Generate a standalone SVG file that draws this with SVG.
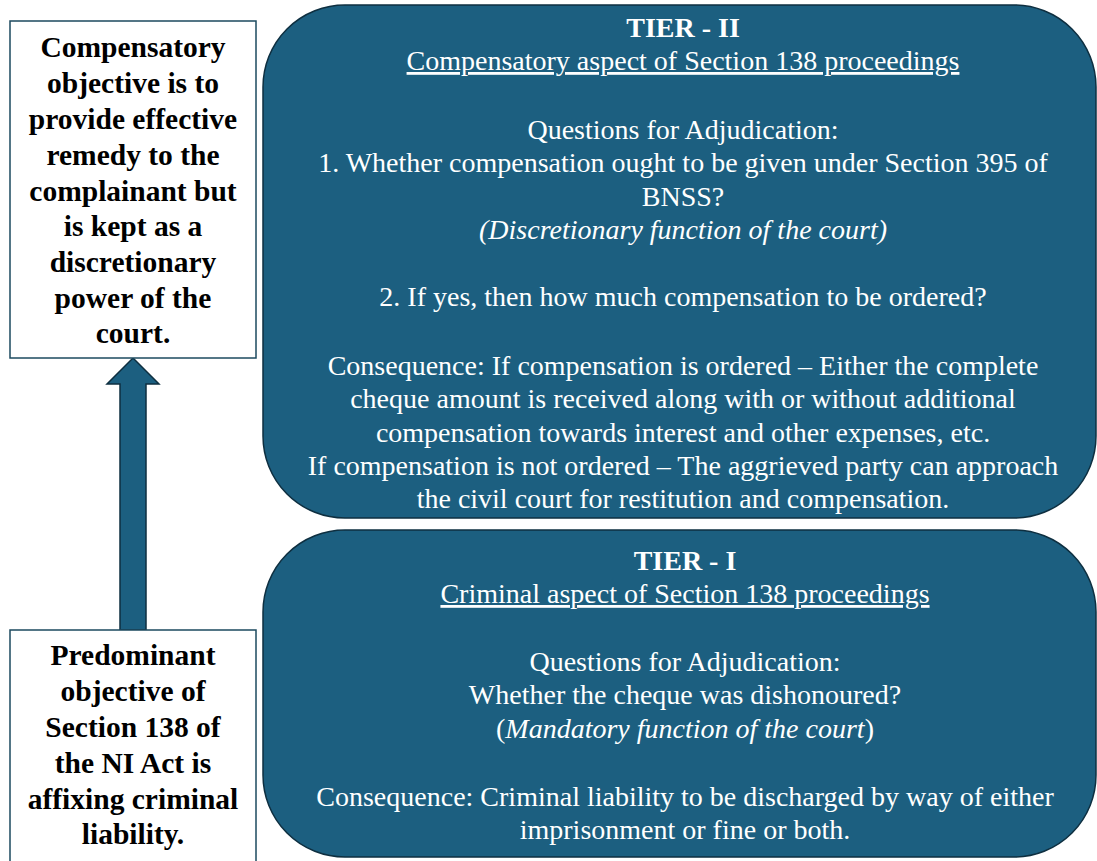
<svg xmlns="http://www.w3.org/2000/svg" width="1097" height="861" viewBox="0 0 1097 861">
<style>
.tier{fill:#1c5f80;stroke:#0e2f40;stroke-width:1.5}
.side{fill:#ffffff;stroke:#1c4a5f;stroke-width:1.5}
.t{font-family:'Liberation Serif';font-size:28px;fill:#ffffff;text-anchor:middle}
.b{font-weight:bold}
.u{text-decoration:underline}
.i{font-style:italic}
.s{font-family:'Liberation Serif';font-size:29.5px;font-weight:bold;fill:#000000;text-anchor:middle}
</style>
<rect width="1097" height="861" fill="#ffffff"/>
<g id="connectors">
<path d="M120,630 L120,384 L107,384 L133,358 L159,384 L146,384 L146,630 Z" fill="#1c5f80" stroke="#0e2f40" stroke-width="1.5"/>
</g>
<g id="compensatory-objective">
<rect class="side" x="10" y="21" width="246" height="337"/>
<text class="s" x="133" y="57">Compensatory</text>
<text class="s" x="133" y="93">objective is to</text>
<text class="s" x="133" y="129">provide effective</text>
<text class="s" x="133" y="165">remedy to the</text>
<text class="s" x="133" y="201">complainant but</text>
<text class="s" x="133" y="236">is kept as a</text>
<text class="s" x="133" y="272">discretionary</text>
<text class="s" x="133" y="308">power of the</text>
<text class="s" x="133" y="343">court.</text>
</g>
<g id="predominant-objective">
<rect class="side" x="10" y="630" width="246" height="240"/>
<text class="s" x="133" y="665">Predominant</text>
<text class="s" x="133" y="701">objective of</text>
<text class="s" x="133" y="737">Section 138 of</text>
<text class="s" x="133" y="773">the NI Act is</text>
<text class="s" x="133" y="809">affixing criminal</text>
<text class="s" x="133" y="844">liability.</text>
</g>
<g id="tier-2">
<rect class="tier" x="263" y="5" width="833" height="513" rx="82" ry="82"/>
<text class="t b" x="683" y="37">TIER - II</text>
<text class="t u" x="683" y="70">Compensatory aspect of Section 138 proceedings</text>
<text class="t" x="683" y="139">Questions for Adjudication:</text>
<text class="t" x="683" y="172">1. Whether compensation ought to be given under Section 395 of</text>
<text class="t" x="683" y="206">BNSS?</text>
<text class="t i" x="683" y="239">(Discretionary function of the court)</text>
<text class="t" x="683" y="306">2. If yes, then how much compensation to be ordered?</text>
<text class="t" x="683" y="375">Consequence: If compensation is ordered – Either the complete</text>
<text class="t" x="683" y="408">cheque amount is received along with or without additional</text>
<text class="t" x="683" y="442">compensation towards interest and other expenses, etc.</text>
<text class="t" x="683" y="475">If compensation is not ordered – The aggrieved party can approach</text>
<text class="t" x="683" y="508">the civil court for restitution and compensation.</text>
</g>
<g id="tier-1">
<rect class="tier" x="263" y="530" width="833" height="327" rx="82" ry="82"/>
<text class="t b" x="685" y="570">TIER - I</text>
<text class="t u" x="685" y="603">Criminal aspect of Section 138 proceedings</text>
<text class="t" x="685" y="671">Questions for Adjudication:</text>
<text class="t" x="685" y="704">Whether the cheque was dishonoured?</text>
<text class="t" x="685" y="738">(<tspan class="i">Mandatory function of the court</tspan>)</text>
<text class="t" x="685" y="806">Consequence: Criminal liability to be discharged by way of either</text>
<text class="t" x="685" y="839">imprisonment or fine or both.</text>
</g>
</svg>
